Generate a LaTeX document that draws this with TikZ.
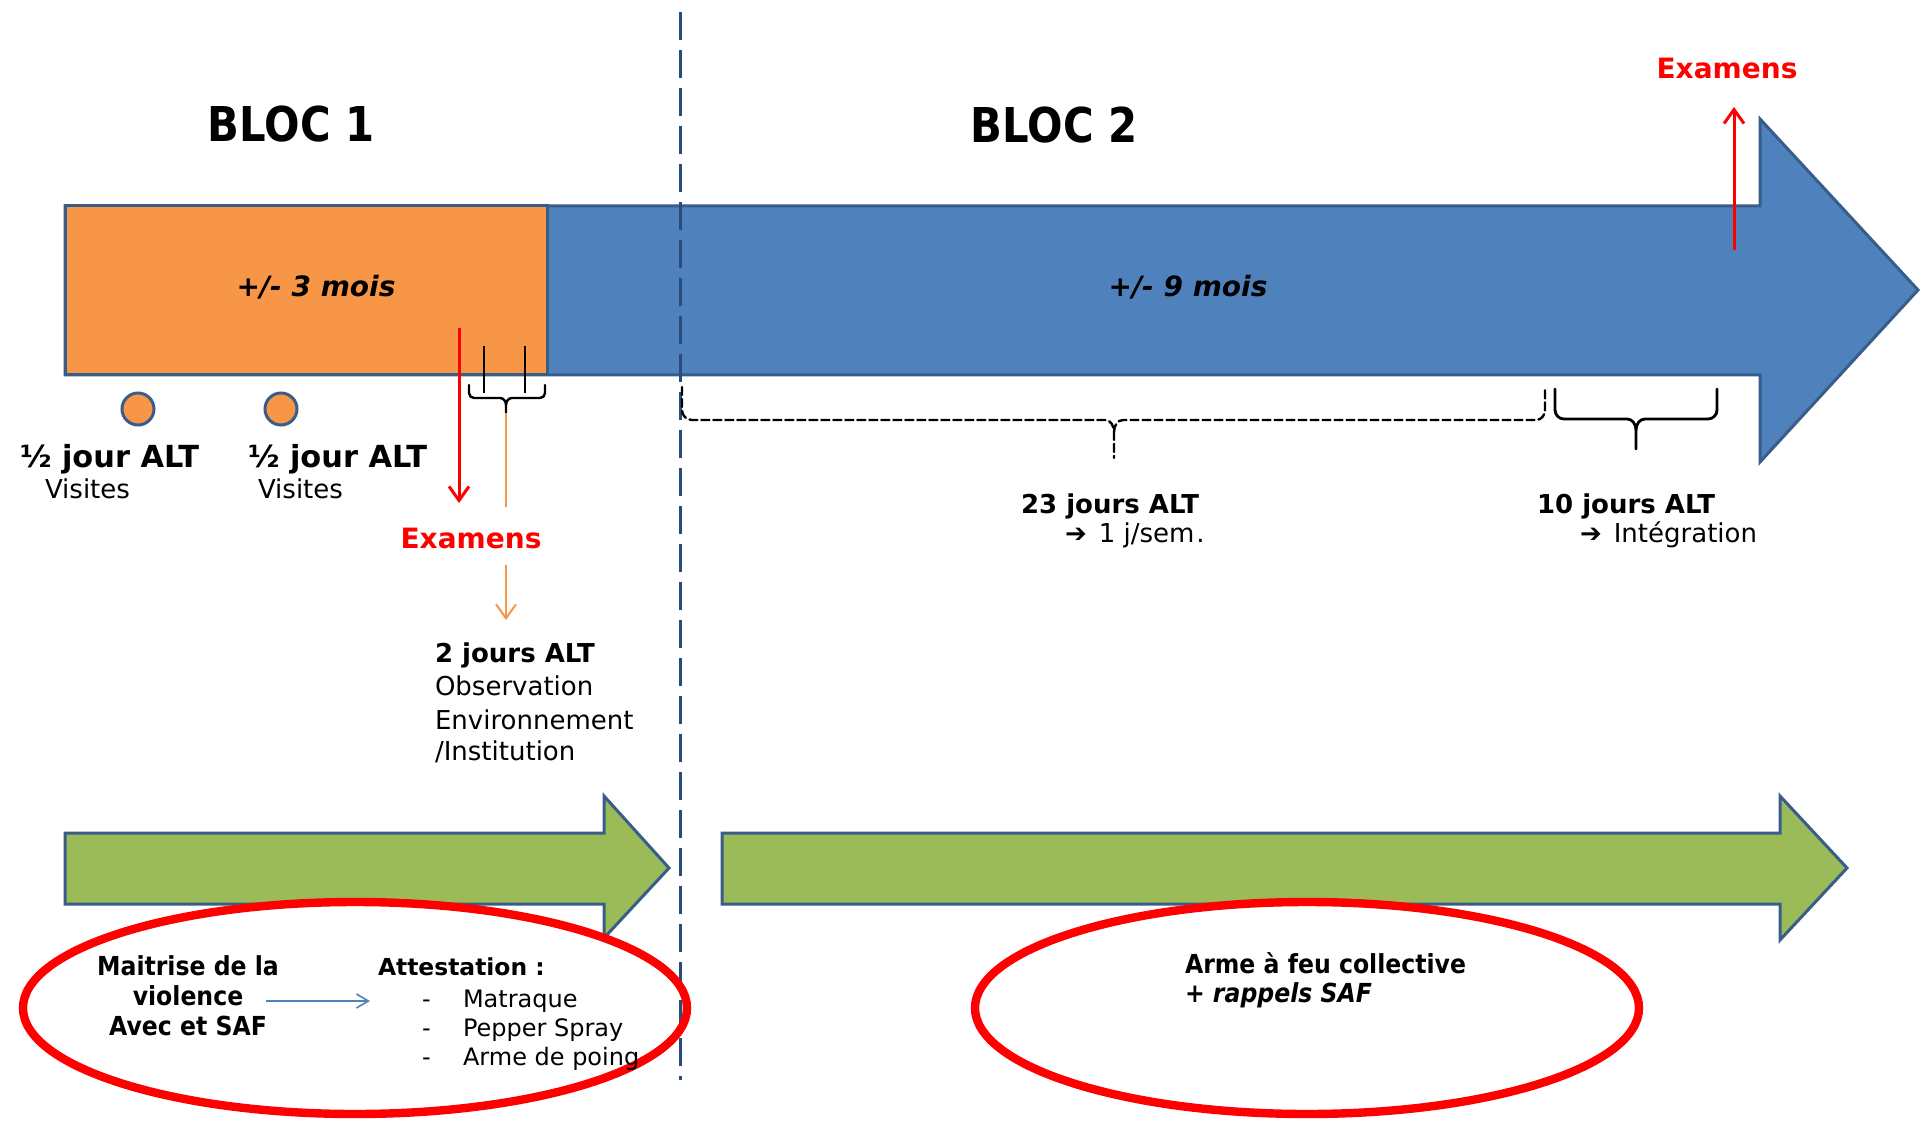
\documentclass[tikz,border=0pt]{standalone}
\usepackage{fontspec}
\setmainfont{DejaVu Sans}
\newfontfamily\cond[FakeStretch=0.9]{DejaVu Sans}
\newfontfamily\blocfont[FakeStretch=0.87]{DejaVu Sans}
\usetikzlibrary{arrows.meta}
\definecolor{bluefill}{HTML}{4F81BD}
\definecolor{blueedge}{HTML}{385D8A}
\definecolor{orangefill}{HTML}{F79646}
\definecolor{greenfill}{HTML}{9BBB59}
\definecolor{dashblue}{HTML}{264D7E}
\definecolor{redc}{HTML}{FF0000}
\tikzset{
  txt/.style={inner sep=0pt, outer sep=0pt},
  shapeedge/.style={draw=blueedge, line width=1.5pt, line join=miter},
  redarrow/.style={draw=redc, line width=1.5pt, -{Straight Barb[length=7pt,width=10pt,line width=1.5pt]}},
  orangearrow/.style={draw=orangefill, line width=1pt, -{Straight Barb[length=7pt,width=10pt,line width=1pt]}},
  bracestyle/.style={draw=black, line width=1.2pt, line cap=round, line join=round},
  redring/.style={draw=redc, line width=4.2pt},
  bigbold/.style={font=\bfseries\fontsize{13}{15}\selectfont},
  plain/.style={font=\fontsize{13}{15}\selectfont},
  ellbold/.style={font=\cond\bfseries\fontsize{13.1}{15}\selectfont},
  ellplain/.style={font=\fontsize{12}{14}\selectfont},
  examfont/.style={font=\bfseries\fontsize{14}{16}\selectfont, text=redc},
  dot/.style={circle, draw=blueedge, line width=1.5pt, fill=orangefill, minimum size=16pt, inner sep=0pt},
}
\begin{document}
\begin{tikzpicture}[x=0.5pt,y=-0.5pt]
\useasboundingbox (0,0) rectangle (1920,1122);
\fill[white] (0,0) rectangle (1920,1122);

% main blue arrow
\path[fill=bluefill, shapeedge] (65,206) -- (1760,206) -- (1760,119) -- (1918,290) -- (1760,462) -- (1760,375) -- (65,375) -- cycle;
% orange block
\path[fill=orangefill, shapeedge] (65,206) rectangle (547,375);

% green arrows
\path[fill=greenfill, shapeedge] (65,833) -- (604,833) -- (604,796) -- (669,868) -- (604,938) -- (604,904) -- (65,904) -- cycle;
\path[fill=greenfill, shapeedge] (722,833) -- (1780,833) -- (1780,796) -- (1847,868) -- (1780,940) -- (1780,904) -- (722,904) -- cycle;

% dashed separator
\coordinate (septop) at (680,12);
\coordinate (sepbot) at (680,1080);
\draw[dashblue, line width=1.5pt, dash pattern=on 14pt off 5pt] (septop) -- (sepbot);

% titles
\node[txt, font=\blocfont\bfseries\fontsize{24}{28}\selectfont, anchor=base] (bloc1) at (291,142) {BLOC 1};
\node[txt, font=\blocfont\bfseries\fontsize{24}{28}\selectfont, anchor=base] (bloc2) at (1054,143) {BLOC 2};

% durations
\node[txt, font=\bfseries\itshape\fontsize{14}{16}\selectfont, anchor=base] (d3) at (316,297) {+/- 3 mois};
\node[txt, font=\bfseries\itshape\fontsize{14}{16}\selectfont, anchor=base] (d9) at (1188,297) {+/- 9 mois};

% top right exams
\node[txt, examfont, anchor=base] (examtop) at (1727,79) {Examens};
\coordinate (examtopstart) at (1734,250);
\draw[redarrow] (examtopstart) -- (1734,107);

% visit circles
\node[dot] (c1) at (138,409) {};
\node[dot] (c2) at (281,409) {};
\node[txt, font=\bfseries\fontsize{15.2}{17}\selectfont, anchor=base west] (h1) at (20,467) {½ jour ALT};
\node[txt, plain, anchor=base west] (v1) at (45,498) {Visites};
\node[txt, font=\bfseries\fontsize{15.2}{17}\selectfont, anchor=base west] (h2) at (248,467) {½ jour ALT};
\node[txt, plain, anchor=base west] (v2) at (258,498) {Visites};

% exams of bloc 1
\node[txt, examfont, anchor=base] (exammid) at (471,548) {Examens};
\coordinate (redstart) at (459,328);
\coordinate (redend) at (459,503);
\draw[redarrow] (redstart) -- (redend);

% ticks and small brace
\coordinate (tick1a) at (484,346); \coordinate (tick1b) at (484,393);
\coordinate (tick2a) at (525,346); \coordinate (tick2b) at (525,393);
\draw[black, line width=1.2pt] (tick1a) -- (tick1b);
\draw[black, line width=1.2pt] (tick2a) -- (tick2b);
\draw[bracestyle] (469,385) -- (469,393) to[out=-90,in=180] (474,398) -- (500,398) to[out=0,in=90] (506,405) -- (506,413);
\draw[bracestyle] (506,405) to[out=90,in=180] (512,398) -- (540,398) to[out=0,in=-90] (545,393) -- (545,385);
\coordinate (bracetip) at (506,413);
\coordinate (orangeend) at (506,507);
\draw[orangefill, line width=1pt] (bracetip) -- (orangeend);
\coordinate (oastart) at (506,565);
\coordinate (oaend) at (506,620);
\draw[orangearrow] (oastart) -- (oaend);

\node[txt, bigbold, anchor=base west] (j2) at (435,662) {2 jours ALT};
\node[txt, plain, anchor=base west] (obs) at (435,695) {Observation};
\node[txt, plain, anchor=base west] (env) at (435,729) {Environnement};
\node[txt, plain, anchor=base west] (inst) at (435,760) {/Institution};

% dashed brace (23 jours)
\draw[bracestyle, dash pattern=on 4pt off 2pt] (682,387) -- (682,410) to[out=-90,in=180] (692,420) -- (1105,420) to[out=0,in=90] (1114,432) -- (1114,458);
\draw[bracestyle, dash pattern=on 4pt off 2pt] (1114,432) to[out=90,in=180] (1123,420) -- (1536,420) to[out=0,in=-90] (1545,410) -- (1545,387);
% solid brace (10 jours)
\draw[bracestyle, line width=1.4pt] (1555,389) -- (1555,410) to[out=-90,in=180] (1564,419) -- (1627,419) to[out=0,in=90] (1636,430) -- (1636,449);
\draw[bracestyle, line width=1.4pt] (1636,430) to[out=90,in=180] (1645,419) -- (1708,419) to[out=0,in=-90] (1717,410) -- (1717,389);

\node[txt, bigbold, anchor=base west] (j23) at (1021,513) {23 jours ALT};
\node[txt, plain, anchor=base west] (j23b) at (1065,542) {\textbf{➔}\hspace{6pt}1 j/sem\hspace{1pt}.};
\node[txt, bigbold, anchor=base west] (j10) at (1537,513) {10 jours ALT};
\node[txt, plain, anchor=base west] (j10b) at (1580,542) {\textbf{➔}\hspace{6pt}Intégration};

% ellipses
\draw[redring] (355,1008) ellipse [x radius=332, y radius=106];
\draw[redring] (1307,1008) ellipse [x radius=332, y radius=106];

% left ellipse text
\node[txt, ellbold, anchor=base] (mv1) at (188,975) {Maitrise de la};
\node[txt, ellbold, anchor=base] (mv2) at (188,1005) {violence};
\node[txt, ellbold, anchor=base] (mv3) at (188,1035) {Avec et SAF};
\node[txt, font=\bfseries\fontsize{11.7}{14}\selectfont, anchor=base west] (att) at (378,975) {Attestation :};
\node[txt, ellplain, anchor=base west] (b1) at (422,1007) {-};
\node[txt, ellplain, anchor=base west] (i1) at (463,1007) {Matraque};
\node[txt, ellplain, anchor=base west] (b2) at (422,1036) {-};
\node[txt, ellplain, anchor=base west] (i2) at (463,1036) {Pepper Spray};
\node[txt, ellplain, anchor=base west] (b3) at (422,1065) {-};
\node[txt, ellplain, anchor=base west] (i3) at (463,1065) {Arme de poing};
\coordinate (bluestart) at (266,1001);
\coordinate (blueend) at (370,1001);
\draw[bluefill, line width=0.8pt, -{Straight Barb[length=6pt,width=7pt,line width=0.8pt]}] (bluestart) -- (blueend);

% right ellipse text
\node[txt, ellbold, anchor=base west] (af1) at (1185,973) {Arme à feu collective};
\node[txt, ellbold, anchor=base west] (af2) at (1185,1002) {+ \itshape rappels SAF};
\end{tikzpicture}
\end{document}
